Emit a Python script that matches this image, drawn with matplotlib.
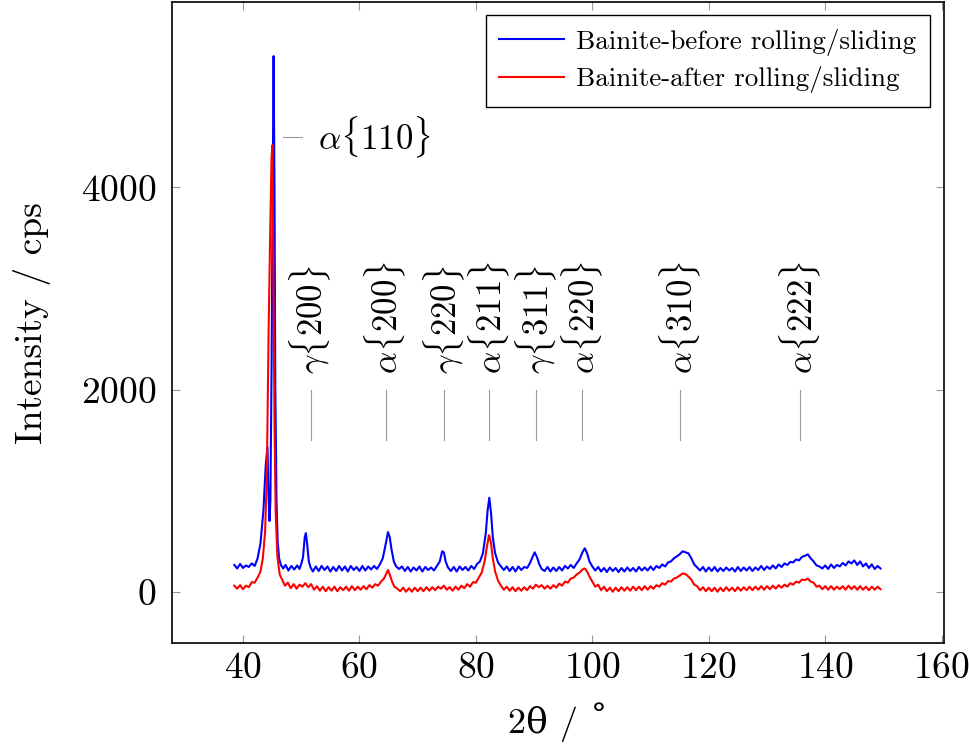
import matplotlib

matplotlib.use("Agg")
import matplotlib.pyplot as plt  # noqa

# 2theta / deg and intensity / cps
before_x = [
    38.5, 39.0, 39.5, 40.0, 40.5, 41.0, 41.5, 42.0, 42.5, 43.0, 43.5, 43.9,
    44.2, 44.35, 44.55, 44.7, 44.9, 45.1, 45.25, 45.4, 45.55, 45.75, 45.95,
    46.2, 46.5, 46.9, 47.3, 47.8, 48.3, 48.8, 49.3, 49.7, 50.0, 50.3, 50.6,
    50.8, 51.0, 51.3, 51.6, 52.0, 52.5, 53.0, 53.5, 54.0, 54.5, 55.0, 55.5,
    56.0, 56.5, 57.0, 57.5, 58.0, 58.5, 59.0, 59.5, 60.0, 60.5, 61.0, 61.5,
    62.0, 62.5, 63.0, 63.5, 64.0, 64.5, 64.9, 65.2, 65.5, 65.9, 66.3, 66.8,
    67.3, 67.8, 68.3, 68.8, 69.3, 69.8, 70.3, 70.8, 71.3, 71.8, 72.3, 72.8,
    73.3, 73.8, 74.2, 74.5, 74.8, 75.2, 75.7, 76.2, 76.7, 77.2, 77.7, 78.2,
    78.7, 79.2, 79.7, 80.2, 80.7, 81.2, 81.7, 82.0, 82.3, 82.6, 82.9, 83.3,
    83.8, 84.3, 84.8, 85.3, 85.8, 86.3, 86.8, 87.3, 87.8, 88.3, 88.8, 89.3,
    89.7, 90.1, 90.5, 90.9, 91.3, 91.8, 92.3, 92.8, 93.3, 93.8, 94.3, 94.8,
    95.3, 95.8, 96.3, 96.8, 97.3, 97.8, 98.3, 98.7, 99.1, 99.5, 100.0, 100.5,
    101.0, 101.5, 102.0, 102.5, 103.0, 103.5, 104.0, 104.5, 105.0, 105.5,
    106.0, 106.5, 107.0, 107.5, 108.0, 108.5, 109.0, 109.5, 110.0, 110.5,
    111.0, 111.5, 112.0, 112.5, 113.0, 113.5, 114.0, 114.5, 115.0, 115.5,
    116.0, 116.5, 117.0, 117.5, 118.0, 118.5, 119.0, 119.5, 120.0, 120.5,
    121.0, 121.5, 122.0, 122.5, 123.0, 123.5, 124.0, 124.5, 125.0, 125.5,
    126.0, 126.5, 127.0, 127.5, 128.0, 128.5, 129.0, 129.5, 130.0, 130.5,
    131.0, 131.5, 132.0, 132.5, 133.0, 133.5, 134.0, 134.5, 135.0, 135.5,
    136.0, 136.5, 137.0, 137.5, 138.0, 138.5, 139.0, 139.5, 140.0, 140.5,
    141.0, 141.5, 142.0, 142.5, 143.0, 143.5, 144.0, 144.5, 145.0, 145.5,
    146.0, 146.5, 147.0, 147.5, 148.0, 148.5, 149.0, 149.5,
]
before_I = [
    265, 230, 275, 235, 260, 245, 280, 255, 330, 480, 800, 1250,
    1430, 1000, 700, 900, 2200, 4000, 5300, 4000, 2000, 900, 500,
    330, 265, 230, 265, 210, 255, 220, 260, 225, 275, 340, 540,
    580, 480, 300, 240, 200, 250, 205, 255, 215, 250, 200, 245,
    205, 255, 210, 250, 200, 255, 215, 245, 205, 255, 210, 250,
    220, 255, 225, 270, 330, 470, 590, 540, 420, 300, 250, 225,
    250, 205, 245, 200, 240, 210, 250, 200, 245, 215, 240, 210,
    255, 300, 400, 390, 300, 240, 205, 245, 200, 250, 215, 245,
    210, 255, 225, 275, 300, 380, 580, 800, 930, 780, 540, 380,
    290, 250, 215, 250, 205, 245, 200, 250, 215, 245, 235, 285,
    340, 390, 340, 270, 225, 205, 245, 200, 240, 205, 245, 210,
    255, 230, 265, 235, 280, 320, 390, 430, 380, 300, 250, 210,
    245, 200, 235, 195, 240, 205, 235, 195, 235, 200,
    240, 205, 235, 200, 245, 210, 240, 210, 250, 215,
    255, 235, 270, 250, 290, 300, 330, 350, 370, 400,
    390, 380, 330, 270, 240, 210, 245, 200, 240, 205,
    245, 200, 235, 205, 240, 210, 235, 200, 245, 205,
    240, 210, 245, 205, 240, 215, 255, 215, 250, 225,
    260, 230, 270, 245, 280, 265, 295, 290, 320, 310,
    345, 355, 370, 330, 300, 260, 250, 230, 260, 225,
    270, 235, 265, 250, 285, 260, 300, 280, 310, 265,
    300, 250, 280, 235, 270, 225, 255, 230,
]

after_x = [
    38.5, 39.0, 39.5, 40.0, 40.5, 41.0, 41.5, 42.0, 42.5, 43.0, 43.4, 43.8,
    44.1, 44.4, 44.65, 44.9, 45.05, 45.2, 45.4, 45.6, 45.9, 46.3, 46.8,
    47.2, 47.7, 48.2, 48.7, 49.2, 49.7, 50.2, 50.7, 51.2, 51.7, 52.2, 52.7,
    53.2, 53.7, 54.2, 54.7, 55.2, 55.7, 56.2, 56.7, 57.2, 57.7, 58.2, 58.7,
    59.2, 59.7, 60.2, 60.7, 61.2, 61.7, 62.2, 62.7, 63.2, 63.7, 64.2, 64.6,
    64.9, 65.2, 65.6, 66.0, 66.5, 67.0, 67.5, 68.0, 68.5, 69.0, 69.5, 70.0,
    70.5, 71.0, 71.5, 72.0, 72.5, 73.0, 73.5, 74.0, 74.5, 75.0, 75.5, 76.0,
    76.5, 77.0, 77.5, 78.0, 78.5, 79.0, 79.5, 80.0, 80.5, 81.0, 81.5, 81.9,
    82.25, 82.6, 82.9, 83.3, 83.8, 84.3, 84.8, 85.3, 85.8, 86.3, 86.8, 87.3,
    87.8, 88.3, 88.8, 89.3, 89.8, 90.3, 90.8, 91.3, 91.8, 92.3, 92.8, 93.3,
    93.8, 94.3, 94.8, 95.3, 95.8, 96.3, 96.8, 97.3, 97.8, 98.3, 98.7, 99.1,
    99.5, 100.0, 100.5, 101.0, 101.5, 102.0, 102.5, 103.0, 103.5, 104.0,
    104.5, 105.0, 105.5, 106.0, 106.5, 107.0, 107.5, 108.0, 108.5, 109.0,
    109.5, 110.0, 110.5, 111.0, 111.5, 112.0, 112.5, 113.0, 113.5, 114.0,
    114.5, 115.0, 115.5, 116.0, 116.5, 117.0, 117.5, 118.0, 118.5, 119.0,
    119.5, 120.0, 120.5, 121.0, 121.5, 122.0, 122.5, 123.0, 123.5, 124.0,
    124.5, 125.0, 125.5, 126.0, 126.5, 127.0, 127.5, 128.0, 128.5, 129.0,
    129.5, 130.0, 130.5, 131.0, 131.5, 132.0, 132.5, 133.0, 133.5, 134.0,
    134.5, 135.0, 135.5, 136.0, 136.5, 137.0, 137.5, 138.0, 138.5, 139.0,
    139.5, 140.0, 140.5, 141.0, 141.5, 142.0, 142.5, 143.0, 143.5, 144.0,
    144.5, 145.0, 145.5, 146.0, 146.5, 147.0, 147.5, 148.0, 148.5, 149.0,
    149.5,
]
after_I = [
    60, 30, 65, 25, 60, 45, 95, 90, 140, 200, 330, 600,
    1200, 2600, 3500, 4300, 4420, 3300, 1700, 800, 350, 170, 110,
    60, 90, 35, 75, 30, 70, 50, 85, 45, 75, 20, 55,
    10, 50, 5, 45, 10, 50, 5, 45, 15, 50, 10, 55,
    15, 50, 20, 55, 25, 65, 40, 75, 60, 100, 130, 180,
    215, 170, 100, 50, 30, 5, 40, 0, 35, 0, 40, 5,
    40, 5, 45, 10, 45, 15, 50, 30, 60, 20, 45, 10,
    50, 20, 60, 35, 75, 50, 95, 90, 140, 190, 300, 450,
    560, 480, 330, 200, 110, 60, 20, 50, 10, 45, 5, 40,
    10, 45, 15, 55, 30, 70, 45, 65, 30, 60, 30, 65,
    40, 80, 60, 100, 90, 130, 140, 170, 190, 220, 230, 200,
    150, 100, 50, 70, 15, 50, 5, 40, 0, 40,
    5, 45, 10, 45, 10, 50, 15, 50, 15, 55,
    20, 55, 30, 65, 50, 85, 70, 105, 100, 130,
    140, 160, 180, 175, 150, 120, 70, 55, 15, 45,
    5, 40, 5, 40, 0, 40, 5, 45, 10, 40,
    5, 45, 10, 45, 15, 50, 15, 50, 20, 55,
    20, 55, 25, 60, 30, 65, 40, 70, 50, 85,
    70, 100, 90, 120, 115, 130, 100, 90, 50, 60,
    25, 55, 20, 55, 20, 50, 25, 55, 20, 60,
    25, 55, 20, 55, 20, 50, 15, 50, 20, 50,
    25,
]

# reflections marked with a vertical pin
pin_pos = [51.6, 64.5, 74.5, 82.3, 90.3, 98.2, 115.1, 135.7]
pin_text = [
    r"$\gamma\{200\}$", r"$\alpha\{200\}$", r"$\gamma\{220\}$", r"$\alpha\{211\}$",
    r"$\gamma\{311\}$", r"$\alpha\{220\}$", r"$\alpha\{310\}$", r"$\alpha\{222\}$",
]
main_text = r"$\alpha\{110\}$"

plt.rcParams["font.family"] = ["cmr10", "DejaVu Serif"]
plt.rcParams["mathtext.fontset"] = "cm"
plt.rcParams["axes.formatter.use_mathtext"] = True

fig = plt.figure(figsize=(9.69, 7.52), dpi=100)
ax = fig.add_axes([0.1775, 0.145, 0.7967, 0.852])

ax.plot(before_x, before_I, color="#0000ff", lw=1.5, label="Bainite-before rolling/sliding")
ax.plot(after_x, after_I, color="#ff0000", lw=1.5, label="Bainite-after rolling/sliding")

grey = "#999999"
for pos, txt in zip(pin_pos, pin_text):
    ax.plot([pos, pos], [1500, 2000], color=grey, lw=0.8)
    ax.text(pos, 2150, txt, rotation=90, ha="center", va="bottom", fontsize=25)
ax.plot([46.8, 50.2], [4500, 4500], color=grey, lw=0.8)
ax.text(52.8, 4500, main_text, ha="left", va="center", fontsize=25)

ax.set_xlim(27.8, 160.4)
ax.set_ylim(-507, 5833)
ax.set_xticks([40, 60, 80, 100, 120, 140, 160])
ax.set_yticks([0, 2000, 4000])
ax.tick_params(direction="in", length=6, width=0.8, color=grey, top=True, right=True,
               labelsize=27)
ax.tick_params(axis="y", pad=11)
ax.tick_params(axis="x", pad=6)
for s in ax.spines.values():
    s.set_linewidth(1.2)

# cmr10 has no theta / degree glyphs, these fall back to DejaVu Serif
ax.set_xlabel("2θ / \u02da", fontsize=26)
ax.set_ylabel("Intensity / cps", fontsize=27)
ax.xaxis.set_label_coords(0.5, -0.123)
ax.xaxis.label.set_va("center")
ax.yaxis.set_label_coords(-0.181, 0.5)
ax.yaxis.label.set_va("center")

leg = ax.legend(loc="upper right", bbox_to_anchor=(0.982, 0.98), borderaxespad=0,
                fontsize=19.5, fancybox=False, framealpha=1, edgecolor="black",
                handlelength=2.4, handletextpad=0.45, labelspacing=0.4, borderpad=0.5)
leg.get_frame().set_linewidth(1.0)

fig.savefig("out.png", dpi=100)
